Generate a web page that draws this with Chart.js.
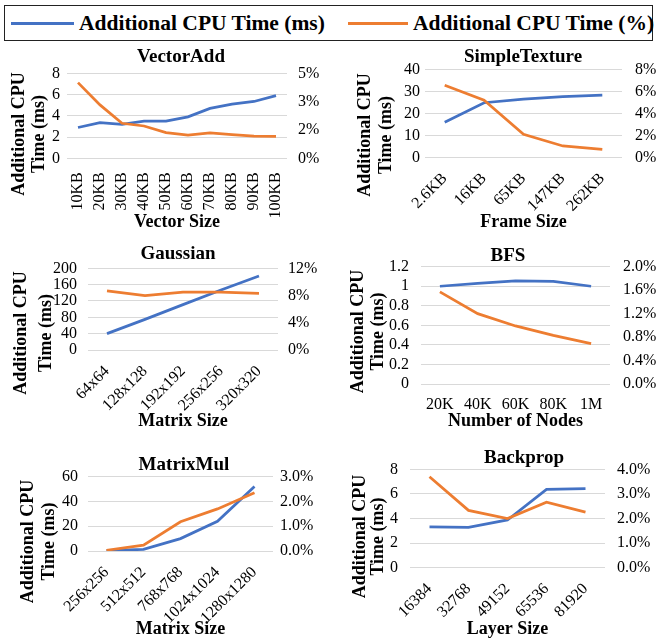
<!DOCTYPE html>
<html><head><meta charset="utf-8">
<script src="https://cdn.jsdelivr.net/npm/chart.js@4/dist/chart.umd.min.js"></script>
<style>
html,body{margin:0;padding:0;background:#fff;}
#wrap{position:relative;width:657px;height:642px;overflow:hidden;font-family:"Liberation Serif","Times New Roman",serif;}
.legend{position:absolute;left:4px;top:5px;width:649px;height:36px;border:1.5px solid #222;box-sizing:border-box;}
.lg{position:absolute;top:0;height:100%;display:flex;align-items:center;font-weight:bold;font-size:21.5px;color:#000;white-space:nowrap;}
.sw{display:inline-block;width:63px;height:3px;margin-right:5px;}
canvas{position:absolute;}
</style></head>
<body><div id="wrap">
<div class="legend">
 <div class="lg" style="left:6px"><span class="sw" style="background:#4472C4"></span>Additional CPU Time (ms)</div>
 <div class="lg" style="left:343px"><span class="sw" style="background:#ED7D31;width:60px"></span>Additional CPU Time (%)</div>
</div>
</div>
<script>
// ---------- data ----------
const vectorAddSizes = ['10KB','20KB','30KB','40KB','50KB','60KB','70KB','80KB','90KB','100KB'];
const vectorAddMs  = [2.9, 3.35, 3.2, 3.5, 3.5, 3.9, 4.7, 5.1, 5.35, 5.9];
const vectorAddPct = [4.45, 3.14, 2.06, 1.9, 1.51, 1.37, 1.49, 1.39, 1.31, 1.29];
const vectorAddMsTicks = [0, 2, 4, 6, 8];
const vectorAddMsLabels = ['0','2','4','6','8'];
const vectorAddPctTicks = [0, 1.6667, 3.3333, 5];
const vectorAddPctLabels = ['0%','2%','3%','5%'];

const frameSizes = ['2.6KB','16KB','65KB','147KB','262KB'];
const simpleTextureMs  = [15.9, 24.8, 26.4, 27.6, 28.3];
const simpleTexturePct = [6.55, 5.2, 2.09, 1.03, 0.73];
const simpleTextureMsTicks = [0, 10, 20, 30, 40];
const simpleTextureMsLabels = ['0','10','20','30','40'];
const simpleTexturePctTicks = [0, 2, 4, 6, 8];
const simpleTexturePctLabels = ['0%','2%','4%','6%','8%'];

const gaussianSizes = ['64x64','128x128','192x192','256x256','320x320'];
const gaussianMs  = [40, 75, 111, 147, 181];
const gaussianPct = [8.7, 8.0, 8.5, 8.5, 8.3];
const gaussianMsTicks = [0, 40, 80, 120, 160, 200];
const gaussianMsLabels = ['0','40','80','120','160','200'];
const gaussianPctTicks = [0, 4, 8, 12];
const gaussianPctLabels = ['0%','4%','8%','12%'];

const bfsNodes = ['20K','40K','60K','80K','1M'];
const bfsMs  = [1.0, 1.03, 1.055, 1.05, 1.0];
const bfsPct = [1.57, 1.20, 0.99, 0.83, 0.69];
const bfsMsTicks = [0, 0.2, 0.4, 0.6, 0.8, 1.0, 1.2];
const bfsMsLabels = ['0','0.2','0.4','0.6','0.8','1','1.2'];
const bfsPctTicks = [0, 0.4, 0.8, 1.2, 1.6, 2.0];
const bfsPctLabels = ['0.0%','0.4%','0.8%','1.2%','1.6%','2.0%'];

const matrixMulSizes = ['256x256','512x512','768x768','1024x1024','1280x1280'];
const matrixMulMs  = [0.3, 1.3, 10, 24, 52];
const matrixMulPct = [0.03, 0.24, 1.18, 1.70, 2.35];
const matrixMulMsTicks = [0, 20, 40, 60];
const matrixMulMsLabels = ['0','20','40','60'];
const matrixMulPctTicks = [0, 1, 2, 3];
const matrixMulPctLabels = ['0.0%','1.0%','2.0%','3.0%'];

const backpropLayers = ['16384','32768','49152','65536','81920'];
const backpropMs  = [3.31, 3.28, 3.88, 6.37, 6.43];
const backpropPct = [3.70, 2.33, 2.0, 2.66, 2.26];
const backpropMsTicks = [0, 2, 4, 6, 8];
const backpropMsLabels = ['0','2','4','6','8'];
const backpropPctTicks = [0, 1, 2, 3, 4];
const backpropPctLabels = ['0.0%','1.0%','2.0%','3.0%','4.0%'];

const seriesNames = ['Additional CPU Time (ms)', 'Additional CPU Time (%)'];
const BLUE = '#4472C4', ORANGE = '#ED7D31';
const FONT = '"Liberation Serif", "Times New Roman", serif';

// ---------- layout of the six panels (absolute page coords) ----------
const panels = [
  {title:'VectorAdd', xTitle:'Vector Size', cats:vectorAddSizes, ms:vectorAddMs, pct:vectorAddPct,
   msT:vectorAddMsTicks, msL:vectorAddMsLabels, pT:vectorAddPctTicks, pL:vectorAddPctLabels,
   box:[0,42,330,232], plot:[67,73.3,287,158.3], tCx:181, tCy:56.7, yX:19, yCy:134, yLh:20.5, xCy:222,
   padL:7, padR:11, padX:6, rot:90},
  {title:'SimpleTexture', xTitle:'Frame Size', cats:frameSizes, ms:simpleTextureMs, pct:simpleTexturePct,
   msT:simpleTextureMsTicks, msL:simpleTextureMsLabels, pT:simpleTexturePctTicks, pL:simpleTexturePctLabels,
   box:[330,42,657,232], plot:[425,69.3,622,157.3], tCx:523, tCy:56.7, yX:365, yCy:135, yLh:21, xCy:222,
   padL:5, padR:13, padX:4, rot:45},
  {title:'Gaussian', xTitle:'Matrix Size', cats:gaussianSizes, ms:gaussianMs, pct:gaussianPct,
   msT:gaussianMsTicks, msL:gaussianMsLabels, pT:gaussianPctTicks, pL:gaussianPctLabels,
   box:[0,238,330,432], plot:[88,268.3,278,350], tCx:178, tCy:254, yX:21, yCy:333, yLh:25, xCy:421,
   padL:11, padR:10, padX:4, rot:45},
  {title:'BFS', xTitle:'Number of Nodes', cats:bfsNodes, ms:bfsMs, pct:bfsPct,
   msT:bfsMsTicks, msL:bfsMsLabels, pT:bfsPctTicks, pL:bfsPctLabels,
   box:[330,238,657,432], plot:[421,266.7,610,384], tCx:508, tCy:256, yX:358.5, yCy:331.5, yLh:19.5, xCy:421,
   padL:12, padR:13, padX:3, rot:0},
  {title:'MatrixMul', xTitle:'Matrix Size', cats:matrixMulSizes, ms:matrixMulMs, pct:matrixMulPct,
   msT:matrixMulMsTicks, msL:matrixMulMsLabels, pT:matrixMulPctTicks, pL:matrixMulPctLabels,
   box:[0,438,330,642], plot:[88,476.7,273,551], tCx:184, tCy:465, yX:28.5, yCy:541.5, yLh:20.5, xCy:629,
   padL:10, padR:7, padX:4, rot:45},
  {title:'Backprop', xTitle:'Layer Size', cats:backpropLayers, ms:backpropMs, pct:backpropPct,
   msT:backpropMsTicks, msL:backpropMsLabels, pT:backpropPctTicks, pL:backpropPctLabels,
   box:[330,438,657,642], plot:[410,469.3,605,567.7], tCx:524, tCy:458, yX:360, yCy:536.5, yLh:18, xCy:629,
   padL:12, padR:12, padX:4, rot:45}
];

// shifts the native title horizontally and the left axis title vertically
const shiftPlugin = {
  id: 'shift',
  afterLayout(chart, args, o) {
    const t = chart.titleBlock;
    if (t && o.titleCx != null) {
      const dx = o.titleCx - (t.left + t.right) / 2;
      t.left += dx; t.right += dx;
    }
    const ys = chart.scales.y;
    if (ys && o.yTitleCy != null) {
      const dy = o.yTitleCy - (ys.top + ys.bottom) / 2;
      if (!ys.__orig) ys.__orig = ys.drawTitle;
      const orig = ys.__orig;
      ys.drawTitle = function () {
        const ctx = this.ctx; ctx.save(); ctx.translate(0, dy); orig.call(this); ctx.restore();
      };
    }
  }
};

const wrap = document.getElementById('wrap');
panels.forEach(p => {
  const [bl, bt, br, bb] = p.box;
  const W = br - bl, H = bb - bt;
  const [pl, pt, pr, pb] = p.plot;
  const cv = document.createElement('canvas');
  cv.width = W; cv.height = H;
  cv.style.left = bl + 'px'; cv.style.top = bt + 'px';
  cv.style.width = W + 'px'; cv.style.height = H + 'px';
  wrap.appendChild(cv);

  const titleLh = 19;
  const tPadTop = (p.tCy - bt) - titleLh / 2;
  const tPadBot = (pt - bt) - titleLh - tPadTop;
  const axLh = 21.6;
  const xPadBot = H - (p.xCy - bt) - axLh / 2;
  const yPadTop = (p.yX - bl) - p.yLh / 2;

  new Chart(cv, {
    type: 'line',
    data: {
      labels: p.cats,
      datasets: [
        {label: seriesNames[0], data: p.ms, yAxisID: 'y', borderColor: BLUE, backgroundColor: BLUE,
         borderWidth: 2.75, pointRadius: 0, tension: 0, order: 1},
        {label: seriesNames[1], data: p.pct, yAxisID: 'y1', borderColor: ORANGE, backgroundColor: ORANGE,
         borderWidth: 2.75, pointRadius: 0, tension: 0, order: 0}
      ]
    },
    options: {
      responsive: false, animation: false, devicePixelRatio: 1,
      layout: {padding: 0, autoPadding: false},
      plugins: {
        legend: {display: false},
        tooltip: {enabled: false},
        title: {display: true, text: p.title, color: '#000',
          font: {family: FONT, size: 19, weight: 'bold', lineHeight: titleLh / 19},
          padding: {top: tPadTop, bottom: tPadBot}},
        shift: {titleCx: p.tCx - bl, yTitleCy: p.yCy - bt}
      },
      scales: {
        x: {
          grid: {display: false}, border: {display: false},
          offset: true,
          ticks: {color: '#000', font: {family: FONT, size: 16}, autoSkip: false,
            minRotation: p.rot, maxRotation: p.rot, padding: p.padX},
          title: {display: true, text: p.xTitle, color: '#000',
            font: {family: FONT, size: 18, weight: 'bold', lineHeight: axLh / 18},
            padding: {top: 0, bottom: xPadBot}},
          afterFit: s => { s.height = bb - pb; }
        },
        y: {
          position: 'left',
          min: p.msT[0], max: p.msT[p.msT.length - 1],
          grid: {color: '#d9d9d9', lineWidth: 1, drawTicks: false}, border: {display: false},
          afterBuildTicks: s => { s.ticks = p.msT.map(v => ({value: v})); },
          ticks: {color: '#000', font: {family: FONT, size: 16}, padding: p.padL, autoSkip: false,
            callback: (v, i) => p.msL[i]},
          title: {display: true, text: ['Additional CPU', 'Time (ms)'], color: '#000',
            font: {family: FONT, size: 18, weight: 'bold', lineHeight: p.yLh / 18},
            padding: {top: yPadTop, bottom: 0}},
          afterFit: s => { s.width = pl - bl; }
        },
        y1: {
          position: 'right',
          min: p.pT[0], max: p.pT[p.pT.length - 1],
          grid: {display: false, drawTicks: false}, border: {display: false},
          afterBuildTicks: s => { s.ticks = p.pT.map(v => ({value: v})); },
          ticks: {color: '#000', font: {family: FONT, size: 16}, padding: p.padR, autoSkip: false,
            callback: (v, i) => p.pL[i]},
          afterFit: s => { s.width = br - pr; }
        }
      }
    },
    plugins: [shiftPlugin]
  });
});
</script>
</body></html>
